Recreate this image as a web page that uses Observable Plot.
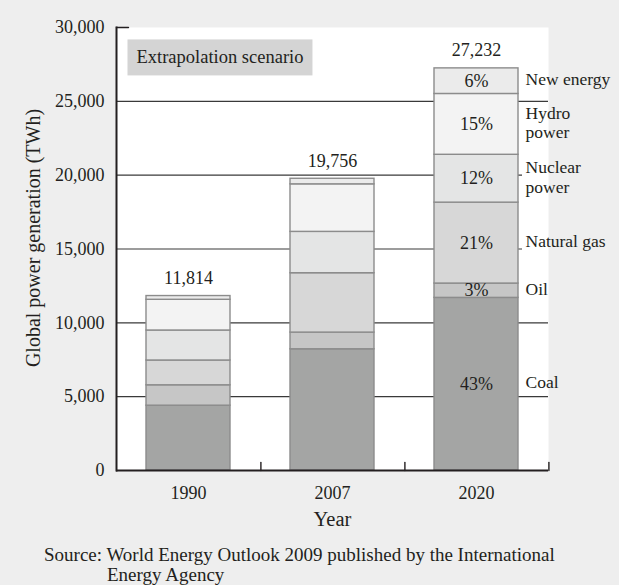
<!DOCTYPE html>
<html>
<head>
<meta charset="utf-8">
<script src="https://cdn.jsdelivr.net/npm/d3@7"></script>
<script src="https://cdn.jsdelivr.net/npm/@observablehq/plot@0.6"></script>
<style>
  html, body { margin: 0; padding: 0; background: #eeeeee; }
  #chart { width: 619px; }
  #chart svg { display: block; }
  .source {
    font-family: "Liberation Serif", "Times New Roman", serif;
    font-size: 19px; color: #231f20; line-height: 20px;
    margin-top: 5px; padding-left: 107px; text-indent: -63px;
  }
</style>
</head>
<body>
<div id="chart"></div>
<div class="source">Source: World Energy Outlook 2009 published by the International<br>Energy Agency</div>
<script>
// ---- data ----
const years = ["1990", "2007", "2020"];
const sources = ["Coal", "Oil", "Natural gas", "Nuclear power", "Hydro power", "New energy"];
const coal       = [4390, 8210, 11690];
const oil        = [1380, 1130, 970];
const naturalGas = [1680, 4020, 5480];
const nuclear    = [2030, 2800, 3240];
const hydro      = [2080, 3220, 4120];
const newEnergy  = [254, 376, 1732];
const totals     = [11814, 19756, 27232];
const pct2020    = ["43%", "3%", "21%", "12%", "15%", "6%"];
const sideLabels = ["Coal", "Oil", "Natural gas", "Nuclear\npower", "Hydro\npower", "New energy"];
const yTicks     = [0, 5000, 10000, 15000, 20000, 25000, 30000];
const colors     = ["#a4a5a4", "#c6c6c6", "#d7d7d7", "#e4e5e5", "#f3f3f3", "#ebebeb"];

const series = [coal, oil, naturalGas, nuclear, hydro, newEnergy];
const rows = [];
years.forEach((year, i) => {
  sources.forEach((source, j) => {
    rows.push({year, source, value: series[j][i], pct: pct2020[j], label: sideLabels[j]});
  });
});
const rows2020 = rows.filter(d => d.year === "2020");
const totalRows = years.map((year, i) => ({year, total: totals[i]}));

const fmt = d3.format(",");
const lineShape = {draw(context, l) { context.moveTo(0, 0); context.lineTo(0, -l); }};

const plot = Plot.plot({
  width: 619,
  height: 540,
  marginTop: 27,
  marginBottom: 70,
  marginLeft: 116,
  marginRight: 71,
  style: {
    background: "transparent",
    fontFamily: "\"Liberation Serif\", \"Times New Roman\", serif",
    fontSize: "18px",
    color: "#231f20"
  },
  x: {type: "band", domain: years, paddingInner: 0.417, paddingOuter: 0.2, axis: null},
  y: {domain: [0, 30000], axis: null},
  color: {domain: sources, range: colors},
  marks: [
    Plot.frame({fill: "white", stroke: null}),
    Plot.ruleY([5000, 10000, 25000], {stroke: "#3a3a3a", strokeWidth: 1.2}),
    Plot.ruleY([15000, 20000], {stroke: "#3a3a3a", strokeWidth: 1.2, insetRight: 26}),
    Plot.barY(rows, {
      x: "year", y: "value", fill: "source", order: sources,
      stroke: "#8c8c8c", strokeWidth: 1.4
    }),
    Plot.text(totalRows, {x: "year", y: "total", text: d => fmt(d.total), lineAnchor: "bottom", dy: -12, fontSize: 18}),
    Plot.text(rows2020, Plot.stackY({
      x: "year", y: "value", z: "source", order: sources, text: "pct", lineAnchor: "middle", fontSize: 18
    })),
    Plot.text(rows2020, Plot.stackY({
      x: "year", y: "value", z: "source", order: sources, text: "label",
      textAnchor: "start", lineAnchor: "middle", dx: 49, dy: -2, lineHeight: 1.12, fontSize: 17.5
    })),
    Plot.axisY({ticks: yTicks, tickFormat: fmt, tickSize: 0, tickPadding: 12, label: null, fontSize: 18}),
    Plot.vector([30000], {y: d => d, frameAnchor: "left", length: 12, rotate: 90, anchor: "start",
      shape: lineShape, stroke: "#231f20", strokeWidth: 1.4}),
    Plot.axisX({tickSize: 0, tickPadding: 16, label: null, fontSize: 18}),
    Plot.vector(years, {x: d => d, frameAnchor: "bottom", length: 8, rotate: 0, anchor: "start",
      shape: lineShape, dx: 72.4, stroke: "#231f20", strokeWidth: 1.4}),
    Plot.frame({anchor: "left", stroke: "#231f20", strokeWidth: 2}),
    Plot.ruleY([0], {stroke: "#231f20", strokeWidth: 2}),
    Plot.text(["Extrapolation scenario"], {
      frameAnchor: "top-left", dx: 20, dy: 30, textAnchor: "start", lineAnchor: "middle",
      fontSize: 18.5, className: "scenario"
    }),
    Plot.text(["Year"], {frameAnchor: "bottom", dy: 49, lineAnchor: "middle", fontSize: 20.5}),
    Plot.text(["Global power generation (TWh)"], {
      frameAnchor: "left", rotate: -90, dx: -83, dy: -11, textAnchor: "middle",
      lineAnchor: "middle", fontSize: 20
    })
  ]
});

document.getElementById("chart").appendChild(plot);

// grey box behind the scenario label
const g = d3.select(plot).select("g.scenario");
const t = g.select("text").node();
if (t) {
  const bb = t.getBBox();
  const ctm = t.getAttribute("transform");
  g.insert("rect", "text")
    .attr("transform", ctm)
    .attr("x", bb.x - 9)
    .attr("y", bb.y - 8)
    .attr("width", bb.width + 18)
    .attr("height", bb.height + 16)
    .attr("fill", "#d4d4d4");
}
</script>
</body>
</html>
